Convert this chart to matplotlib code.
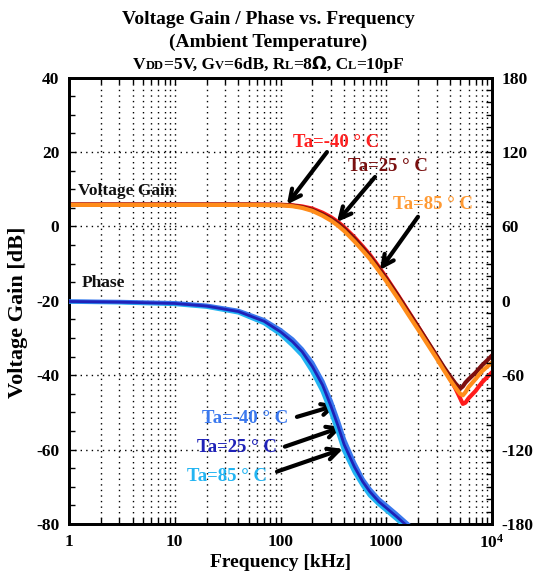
import numpy as np
import matplotlib
matplotlib.use("Agg")
import matplotlib.pyplot as plt
from matplotlib.offsetbox import TextArea, HPacker, AnnotationBbox
from matplotlib.ticker import FixedLocator, NullFormatter, MultipleLocator

plt.rcParams["font.family"] = ["Liberation Serif", "DejaVu Serif"]
plt.rcParams["font.weight"] = "bold"
plt.rcParams["axes.unicode_minus"] = False
plt.rcParams["mathtext.fontset"] = "custom"
plt.rcParams["mathtext.rm"] = "Liberation Serif:bold"
plt.rcParams["mathtext.bf"] = "Liberation Serif:bold"

# ---- gain data [dB] vs frequency [kHz] ----
gain_freq = [1, 10, 50, 100, 130, 160, 200, 250, 300, 350, 400, 500, 600, 700,
             800, 1000, 1300, 1600, 2000, 2500, 3000, 3500, 4000, 4500, 5000,
             5300, 5600, 6000, 7000, 8000, 9000, 10000]
gain_m40 = [5.9, 5.9, 5.9, 5.85, 5.7, 5.4, 4.8, 3.7, 2.5, 1.2, -0.2, -2.9, -5.4, -7.6,
            -9.8, -13.7, -18.6, -22.6, -26.9, -31.3, -34.9, -38.1, -40.9, -43.5, -46.2,
            -47.7, -47.4, -46.2, -44.2, -42.0, -40.5, -39.2]
gain_25 = [5.9, 5.9, 5.9, 5.8, 5.6, 5.2, 4.5, 3.3, 2.1, 0.8, -0.6, -3.3, -5.8, -8.0,
           -10.2, -14.0, -18.8, -22.8, -27.0, -31.3, -34.8, -37.8, -40.2, -42.2, -43.6,
           -43.0, -42.0, -41.1, -39.3, -37.4, -36.0, -34.7]
gain_85 = [5.8, 5.8, 5.8, 5.7, 5.45, 5.0, 4.2, 2.9, 1.6, 0.2, -1.2, -4.0, -6.5, -8.7,
           -10.9, -14.7, -19.5, -23.5, -27.7, -32.0, -35.5, -38.6, -41.2, -43.3, -45.0,
           -45.4, -44.6, -43.2, -41.0, -39.0, -37.7, -36.6]

# ---- phase data [deg] vs frequency [kHz] ----
phase_freq = [1, 3, 10, 20, 40, 70, 100, 130, 160, 200, 250, 300, 350, 400, 500,
              600, 700, 850, 1000, 1250, 1500, 1800, 2200]
phase_m40 = [-0.4, -0.8, -1.8, -3.8, -8.0, -15.5, -23.5, -31, -39, -50, -65, -81, -97,
             -112, -131, -144, -152, -160, -165, -172, -178, -184, -190]
phase_25 = [-0.5, -1.0, -2.1, -4.2, -8.6, -16.5, -25, -33, -41, -53, -68, -85, -101,
            -116, -134, -146, -154, -162, -167, -174, -180, -186, -192]
phase_85 = [-0.7, -1.3, -2.6, -4.8, -9.4, -18, -27, -36, -44, -57, -73, -90, -106,
            -121, -138, -149, -157, -164, -169, -176, -182, -188, -194]

x_ticks = [1, 10, 100, 1000, 10000]
x_tick_labels = ["1", "10", "100", "1000", r"$\mathbf{10^{4}}$"]
gain_ticks = [-80, -60, -40, -20, 0, 20, 40]
phase_ticks = [-180, -120, -60, 0, 60, 120, 180]

gain_colors = {"m40": "#ff1a1a", "25": "#7d0f0f", "85": "#ff8c1a"}
gain_text_colors = {"m40": "#ff2020", "25": "#7a1010", "85": "#ff9a33"}
phase_colors = {"m40": "#3a78ee", "25": "#1f22b8", "85": "#22b4f2"}

W, H = 537, 579
fig = plt.figure(figsize=(W / 100, H / 100), dpi=100)
ax = fig.add_axes([69 / W, 1 - 524 / H, (492 - 69) / W, (524 - 77.7) / H])
ax2 = ax.twinx()

ax.set_xscale("log")
ax.set_xlim(1, 1e4)
ax.set_ylim(-80, 40)
ax2.set_ylim(-180, 180)

# grid: dotted lines at every log tick, horizontal only at major gain ticks
ax.xaxis.set_major_locator(FixedLocator(x_ticks))
minor_x = [m * 10 ** d for d in range(4) for m in range(2, 10)]
ax.xaxis.set_minor_locator(FixedLocator(minor_x))
ax.xaxis.set_minor_formatter(NullFormatter())
ax.set_xticklabels(x_tick_labels)
ax.set_yticks(gain_ticks)
ax.yaxis.set_minor_locator(MultipleLocator(5))
ax2.set_yticks(phase_ticks)
ax2.yaxis.set_minor_locator(MultipleLocator(10))

dot = (0, (1, 3))
ax.grid(True, which="major", axis="both", color="black", linestyle=dot, linewidth=1.0)
ax.grid(True, which="minor", axis="x", color="black", linestyle=dot, linewidth=1.0)

for a in (ax, ax2):
    a.tick_params(which="both", direction="in", top=True, labelsize=12.5, width=1)
    a.tick_params(which="major", length=5)
    a.tick_params(which="minor", length=4)
    for s in a.spines.values():
        s.set_linewidth(2.0)
ax.tick_params(axis="y", pad=7)
ax.tick_params(axis="x", pad=7)
ax2.tick_params(axis="y", pad=7)
for lbl in ax.get_xticklabels() + ax.get_yticklabels() + ax2.get_yticklabels():
    lbl.set_fontweight("bold")

ax.set_xlabel("Frequency [kHz]", fontsize=14, fontweight="bold", labelpad=2)
ax.set_ylabel("Voltage Gain [dB]", fontsize=16, fontweight="bold")
ax.yaxis.set_label_coords((28 - 69) / 423, (524 - 312) / 446.3)

# curves
lw = 3.0
ax.plot(gain_freq, gain_m40, color=gain_colors["m40"], lw=lw, zorder=3)
ax.plot(gain_freq, gain_25, color=gain_colors["25"], lw=lw, zorder=3)
ax.plot(gain_freq, gain_85, color=gain_colors["85"], lw=lw, zorder=3)
ax2.plot(phase_freq, phase_85, color=phase_colors["85"], lw=lw, zorder=3)
ax2.plot(phase_freq, phase_m40, color=phase_colors["m40"], lw=lw, zorder=3)
ax2.plot(phase_freq, phase_25, color=phase_colors["25"], lw=2.0, zorder=3)

ax.text(10 ** ((78 - 69) / 105.75), 9.5, "Voltage Gain", fontsize=12.5,
        fontweight="bold", ha="left", va="center", color="#111111")
ax.text(10 ** ((82 - 69) / 105.75), -15.3, "Phase", fontsize=12.5,
        fontweight="bold", ha="left", va="center", color="#111111")

arrow = dict(arrowstyle="->,head_length=0.8,head_width=0.4", color="black", lw=3.0,
             shrinkA=0, shrinkB=0)

# gain annotations (text, colour, text anchor, arrow tail, arrow tip)
gain_notes = [
    ("Ta=-40 ° C", gain_text_colors["m40"], (131, 22.7), (275, 20.0), (115, 5.9)),
    ("Ta=25 ° C", gain_text_colors["25"], (435, 16.0), (783, 13.3), (342, 1.2)),
    ("Ta=85 ° C", gain_text_colors["85"], (1158, 5.8), (1995, 2.6), (873, -11.7)),
]
phase_notes = [
    ("Ta=-40 ° C", phase_colors["m40"], (18.1, -51.7), (143, -51.2), (342, -48.0)),
    ("Ta=25 ° C", phase_colors["25"], (16.2, -59.5), (110, -59.2), (382, -53.9)),
    ("Ta=85 ° C", phase_colors["85"], (13.1, -67.3), (92.7, -65.9), (390, -59.8)),
]
for txt, col, tpos, tail, tip in gain_notes + phase_notes:
    ax.text(tpos[0], tpos[1], txt, color=col, fontsize=13.5, fontweight="bold",
            ha="left", va="center", zorder=5)
    ax.annotate("", xy=tip, xytext=tail, arrowprops=arrow, zorder=6)

# title
fig.text(0.5, 1 - 19 / H, "Voltage Gain / Phase vs. Frequency", ha="center",
         va="center", fontsize=14, fontweight="bold")
fig.text(0.5, 1 - 42 / H, "(Ambient Temperature)", ha="center", va="center",
         fontsize=14, fontweight="bold")

big, small = 12.5, 9
parts = [("V", big), ("DD", small), ("=5V, G", big), ("V", small), ("=6dB, R", big),
         ("L", small), ("=8", big), ("Ω", big), (", C", big), ("L", small), ("=10pF", big)]
boxes = []
for s, sz in parts:
    fam = ["DejaVu Sans"] if s == "Ω" else ["Liberation Serif"]
    boxes.append(TextArea(s, textprops=dict(fontsize=sz, fontweight="bold", family=fam)))
pack = HPacker(children=boxes, align="baseline", pad=0, sep=0)
ab = AnnotationBbox(pack, (0.5, 1 - 64 / H), xycoords="figure fraction",
                    frameon=False, box_alignment=(0.5, 0.5))
fig.add_artist(ab)

fig.savefig("out.png", dpi=100)
